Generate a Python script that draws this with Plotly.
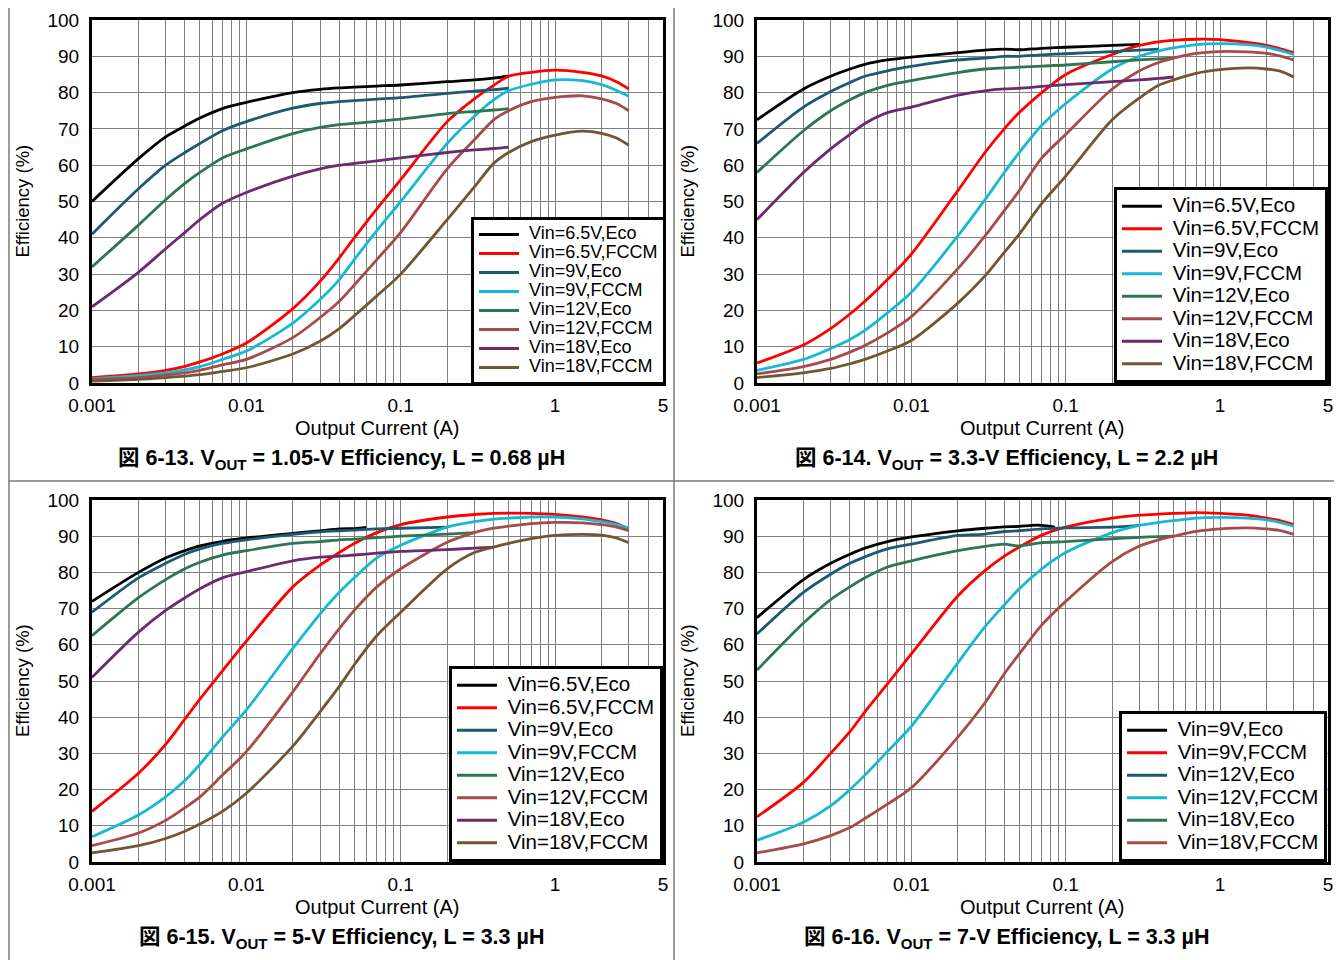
import math
import plotly.graph_objects as go

# page shows the figure offset by the default 8px body margin
OFF = 8
W, H = 1342 - OFF, 960 - OFF

# ---------------- data ----------------
X = [0.001, 0.002, 0.003, 0.004, 0.005, 0.007, 0.01, 0.02, 0.03, 0.04, 0.05, 0.07,
     0.1, 0.2, 0.3, 0.4, 0.5, 0.7, 1, 1.5, 2, 2.5, 3]

NAMES_A = ["Vin=6.5V,Eco", "Vin=6.5V,FCCM", "Vin=9V,Eco", "Vin=9V,FCCM",
           "Vin=12V,Eco", "Vin=12V,FCCM", "Vin=18V,Eco", "Vin=18V,FCCM"]
NAMES_B = ["Vin=9V,Eco", "Vin=9V,FCCM", "Vin=12V,Eco", "Vin=12V,FCCM",
           "Vin=18V,Eco", "Vin=18V,FCCM"]

COLORS = ["#000000", "#ff0000", "#1b5a71", "#16b9d4", "#2e7553", "#a64a4a", "#6b2b6e", "#715634"]

CAPTIONS = [
    "図 6-13. V<sub>OUT</sub> = 1.05-V Efficiency, L = 0.68 µH",
    "図 6-14. V<sub>OUT</sub> = 3.3-V Efficiency, L = 2.2 µH",
    "図 6-15. V<sub>OUT</sub> = 5-V Efficiency, L = 3.3 µH",
    "図 6-16. V<sub>OUT</sub> = 7-V Efficiency, L = 3.3 µH",
]

X_TICK_LABELS = {0.001: "0.001", 0.01: "0.01", 0.1: "0.1", 1: "1", 5: "5"}
Y_TICKS = [0, 10, 20, 30, 40, 50, 60, 70, 80, 90, 100]

# Panel 1: VOUT = 1.05 V
P1_ECO_65 = [50, 61.8, 67.8, 70.8, 73, 75.6, 77.3, 80, 80.9, 81.3, 81.5, 81.8, 82.1, 83, 83.5, 84, 84.5]
P1_FCCM_65 = [1.5, 2.5, 3.5, 4.6, 5.8, 8, 11, 20.5, 28, 34.5, 40, 48, 56, 72, 78.3, 82, 84.5, 85.6, 86.2, 85.6, 84.6, 83, 81]
P1_ECO_9 = [41, 53.5, 60, 63.5, 66, 69.5, 72, 75.7, 77, 77.5, 77.8, 78.2, 78.6, 79.8, 80.4, 80.8, 81.2]
P1_FCCM_9 = [1.2, 2, 2.8, 3.6, 4.5, 6.5, 8.8, 16.5, 23, 28.5, 34, 42, 50, 66, 73.5, 78, 80.5, 82.3, 83.5, 83.3, 82.2, 80.6, 79]
P1_ECO_12 = [32, 43.5, 50.5, 55, 58, 62, 64.5, 68.7, 70.4, 71.2, 71.5, 72.1, 72.7, 74.2, 74.8, 75.2, 75.6]
P1_FCCM_12 = [1, 1.5, 2.2, 2.8, 3.5, 5, 6.5, 12.5, 18, 22.5, 27, 34, 41.5, 59, 67, 72.5, 75, 77.5, 78.7, 79.1, 78.3, 77, 75]
P1_ECO_18 = [21, 30.5, 37, 41.5, 45, 49.5, 52.5, 57, 59, 60, 60.5, 61.2, 62, 63.5, 64.2, 64.6, 65]
P1_FCCM_18 = [0.5, 1, 1.5, 1.9, 2.3, 3.2, 4.2, 8, 11.5, 15, 18.5, 24, 30, 45, 54, 60.5, 63.5, 66.5, 68.3, 69.4, 68.8, 67.5, 65.5]

# Panel 2: VOUT = 3.3 V
P2_ECO_65 = [72.5, 81, 84.5, 86.5, 87.8, 89, 89.8, 91, 91.7, 92, 91.8, 92.2, 92.5, 93, 93.3]
P2_FCCM_65 = [5.5, 10.5, 15, 19, 22.5, 28.5, 35.5, 53, 63.5, 70, 74.5, 80, 85, 90.5, 93, 94, 94.4, 94.7, 94.6, 93.8, 93, 92, 91]
P2_ECO_9 = [66, 76, 80.3, 82.8, 84.5, 86, 87.2, 89, 89.5, 90, 90, 90.4, 90.7, 91.3, 91.7, 92]
P2_FCCM_9 = [3.5, 6.5, 9.5, 12, 14.5, 19.3, 25, 40.5, 50.5, 58, 63.5, 71, 77, 86.5, 90, 91.5, 92.3, 93.2, 93.5, 93.2, 92.5, 91.5, 90.5]
P2_ECO_12 = [58, 69.5, 75, 78, 80, 82, 83.3, 85.5, 86.5, 86.8, 87, 87.3, 87.6, 88.5, 89, 89.3, 89.5]
P2_FCCM_12 = [2.5, 4.5, 6.5, 8.5, 10.3, 13.8, 18.3, 31.5, 40.5, 47.5, 53, 62, 68.5, 81, 86, 88.3, 89.5, 90.8, 91.3, 91.2, 90.8, 90, 89]
P2_ECO_18 = [45, 58, 64.5, 68.5, 71.5, 74.5, 76, 79.3, 80.5, 81, 81.2, 81.7, 82.2, 83, 83.5, 83.9, 84.3]
P2_FCCM_18 = [1.5, 2.8, 4, 5.3, 6.5, 8.8, 11.7, 22, 29.5, 36, 41, 49.5, 57, 72.5, 78.5, 82, 83.5, 85.3, 86.3, 86.8, 86.5, 85.8, 84.3]

# Panel 3: VOUT = 5 V
P3_X_ECO_65 = [0.001, 0.002, 0.003, 0.004, 0.005, 0.007, 0.01, 0.02, 0.03, 0.04, 0.05, 0.06]
P3_ECO_65 = [72, 80, 84, 86, 87.3, 88.6, 89.5, 90.8, 91.5, 92, 92.1, 92.4]
P3_FCCM_65 = [14, 24.5, 32.5, 39.5, 45, 52.8, 61, 76, 82, 85.5, 88, 91, 93.2, 95.3, 96, 96.3, 96.4, 96.3, 96, 95.3, 94.5, 93.5, 92]
P3_ECO_9 = [69, 78.5, 82.5, 85, 86.5, 88, 89, 90.5, 91.2, 91.5, 91.7, 92, 92.2, 92.5]
P3_FCCM_9 = [7, 13, 18, 22.5, 27, 34.5, 42, 59, 68.5, 74.5, 78.5, 84, 87.5, 92.5, 94, 94.7, 95, 95.3, 95.3, 94.8, 94, 93.2, 92.3]
P3_ECO_12 = [62.5, 73, 78, 81, 82.8, 84.8, 86, 88, 88.5, 89, 89.2, 89.6, 90, 90.6, 91]
P3_FCCM_12 = [4.5, 8, 11.5, 15, 18, 24, 30.5, 47, 57.5, 64.5, 69.5, 76, 81, 88.3, 91, 92.2, 92.8, 93.5, 93.8, 93.7, 93.2, 92.5, 91.5]
P3_ECO_18 = [51, 63.5, 69.5, 73, 75.5, 78.5, 80.2, 83.2, 84.2, 84.5, 84.8, 85.3, 85.8, 86.3, 86.7, 87]
P3_FCCM_18 = [2.5, 4.5, 6.5, 8.5, 10.5, 14, 19, 32, 41.5, 48.5, 54.5, 62.5, 69, 81, 85.5, 87, 88, 89.3, 90.2, 90.5, 90.3, 89.5, 88.2]

# Panel 4: VOUT = 7 V
P4_X_ECO_9 = [0.001, 0.002, 0.003, 0.004, 0.005, 0.007, 0.01, 0.02, 0.03, 0.04, 0.05, 0.06, 0.07, 0.085]
P4_ECO_9 = [67.5, 78, 82.5, 85, 86.7, 88.5, 89.8, 91.5, 92.2, 92.6, 92.7, 93, 93, 92.5]
P4_FCCM_9 = [12.5, 22, 30, 36, 41.5, 49.2, 57.5, 73.5, 80.5, 84.5, 87, 90.3, 92.5, 95, 95.8, 96.1, 96.3, 96.5, 96.3, 95.8, 95, 94.2, 93.2]
P4_ECO_12 = [63, 74.5, 79.5, 82.5, 84.3, 86.5, 87.8, 90.2, 90.6, 91.3, 91.5, 92, 92.3, 92.5, 93]
P4_FCCM_12 = [6, 11, 15.5, 20, 24, 30.5, 37.5, 55, 65, 71, 75.5, 81, 85.5, 91, 93, 93.8, 94.3, 95, 95.2, 95, 94.5, 93.7, 92.8]
P4_ECO_18 = [53, 66, 72.5, 76, 78.5, 81.5, 83.2, 86, 87.2, 87.8, 87.3, 88.2, 88.5, 89.3, 89.7, 89.9, 90]
P4_FCCM_18 = [2.5, 5, 7.3, 9.5, 12, 16, 20.5, 34.5, 44, 52, 57.5, 65.5, 72, 83, 87.3, 89, 90, 91.3, 92, 92.3, 92, 91.5, 90.5]

PANELS = [
    (NAMES_A, [(None, P1_ECO_65), (None, P1_FCCM_65), (None, P1_ECO_9), (None, P1_FCCM_9),
               (None, P1_ECO_12), (None, P1_FCCM_12), (None, P1_ECO_18), (None, P1_FCCM_18)]),
    (NAMES_A, [(None, P2_ECO_65), (None, P2_FCCM_65), (None, P2_ECO_9), (None, P2_FCCM_9),
               (None, P2_ECO_12), (None, P2_FCCM_12), (None, P2_ECO_18), (None, P2_FCCM_18)]),
    (NAMES_A, [(P3_X_ECO_65, P3_ECO_65), (None, P3_FCCM_65), (None, P3_ECO_9), (None, P3_FCCM_9),
               (None, P3_ECO_12), (None, P3_FCCM_12), (None, P3_ECO_18), (None, P3_FCCM_18)]),
    (NAMES_B, [(P4_X_ECO_9, P4_ECO_9), (None, P4_FCCM_9), (None, P4_ECO_12), (None, P4_FCCM_12),
               (None, P4_ECO_18), (None, P4_FCCM_18)]),
]

# ---------------- layout (screen pixels) ----------------
FONT = "Liberation Sans, Arial, Noto Sans CJK JP, sans-serif"
PLOT_BOXES = [(92, 663, 20, 383), (757, 1328, 20, 383), (92, 663, 500, 862), (757, 1328, 500, 862)]
LEGEND_POS = [(666, 385), (1328, 383), (663, 862), (1327, 862)]
LEGEND_BASE = [12, 15, 15, 15]
LEGEND_TXT = [18, 20.5, 20.5, 20.5]
CAPTION_Y = [459, 459, 938, 938]
CELL_CX = [341, 1006, 341, 1006]
TICK_SIZE = 19
TITLE_SIZE = 20
CAPTION_SIZE = 21.5
PAD = "\u00a0"


def px_x(p):
    return (p - OFF) / W


def px_y(p):
    return 1 - (p - OFF) / H


# x tick values: every 1..9 per decade + up to 5
xtv, xtt = [], []
for dec in [0.001, 0.01, 0.1, 1]:
    for m in range(1, 10):
        v = round(m * dec, 6)
        if v > 5:
            break
        xtv.append(v)
        xtt.append(X_TICK_LABELS.get(v, ""))

fig = go.Figure()

for i, (names, series) in enumerate(PANELS):
    ax = "" if i == 0 else str(i + 1)
    lg = "legend" if i == 0 else f"legend{i + 1}"
    for j, (xs, ys) in enumerate(series):
        xx = xs if xs is not None else X[:len(ys)]
        fig.add_trace(go.Scatter(
            x=xx, y=ys, mode="lines",
            name=f'<span style="font-size:{LEGEND_TXT[i]}px">{PAD}{names[j]}</span>',
            line=dict(color=COLORS[j], width=2.8, shape="spline", smoothing=0.8),
            xaxis="x" + ax, yaxis="y" + ax, legend=lg, showlegend=True,
        ))

layout = dict(
    template="none",
    width=W, height=H, margin=dict(l=0, r=0, t=0, b=0, pad=0, autoexpand=False),
    paper_bgcolor="white", plot_bgcolor="white",
    font=dict(family=FONT, color="black", size=TICK_SIZE),
    shapes=[], annotations=[],
)

axis_common = dict(
    showgrid=True, gridcolor="#808080", gridwidth=1,
    showline=True, linewidth=3, linecolor="black", mirror=True,
    ticks="", zeroline=False, automargin=False,
    tickfont=dict(family=FONT, size=TICK_SIZE, color="black"),
)

for i, (x0, x1, y0, y1) in enumerate(PLOT_BOXES):
    ax = "" if i == 0 else str(i + 1)
    layout["xaxis" + ax] = dict(
        type="log", range=[-3, math.log10(5)], domain=[px_x(x0), px_x(x1)],
        anchor="y" + ax, tickvals=xtv, ticktext=xtt, ticklabelstandoff=3, **axis_common)
    layout["yaxis" + ax] = dict(
        range=[0, 100], domain=[px_y(y1), px_y(y0)], anchor="x" + ax,
        tickvals=Y_TICKS, ticklabelstandoff=6, **axis_common)
    lg = "legend" if i == 0 else f"legend{i + 1}"
    lx, ly = LEGEND_POS[i]
    layout[lg] = dict(
        x=px_x(lx), y=px_y(ly), xanchor="right", yanchor="bottom",
        bgcolor="white", bordercolor="black", borderwidth=3, itemwidth=40,
        font=dict(family=FONT, size=LEGEND_BASE[i], color="black"),
        itemclick=False, itemdoubleclick=False,
    )
    layout["annotations"].append(dict(
        text="Output Current (A)", xref="paper", yref="paper",
        x=px_x((x0 + x1) / 2), y=px_y(y1 + 45), xanchor="center", yanchor="middle",
        showarrow=False, font=dict(family=FONT, size=TITLE_SIZE)))
    layout["annotations"].append(dict(
        text="Efficiency (%)", xref="paper", yref="paper", textangle=-90,
        x=px_x(x0 - 70), y=px_y((y0 + y1) / 2), xanchor="center", yanchor="middle",
        showarrow=False, font=dict(family=FONT, size=18.5)))
    layout["annotations"].append(dict(
        text="<b>" + CAPTIONS[i] + "</b>", xref="paper", yref="paper",
        x=px_x(CELL_CX[i]), y=px_y(CAPTION_Y[i]), xanchor="center", yanchor="middle",
        showarrow=False, font=dict(family=FONT, size=CAPTION_SIZE)))

# table frame lines
FRAME_COLOR = "#7a7a7a"
for (a, b, c, d) in [(9, 3, 9, 960), (674, 3, 674, 960), (1338, 3, 1338, 960),
                     (9, 3, 1338, 3), (9, 481, 1338, 481)]:
    layout["shapes"].append(dict(type="line", xref="paper", yref="paper",
                                 x0=px_x(a), y0=px_y(b), x1=px_x(c), y1=px_y(d),
                                 line=dict(color=FRAME_COLOR, width=1.5)))

fig.update_layout(**layout)
fig.write_html("out.html")
